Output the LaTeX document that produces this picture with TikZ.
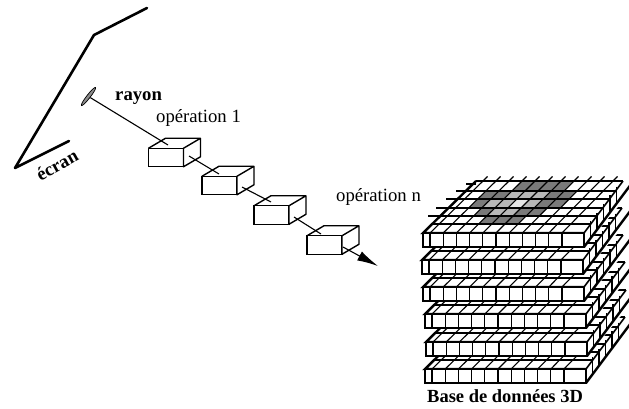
\documentclass[tikz,border=0pt]{standalone}
\usepackage{fontspec}
\setmainfont{Liberation Serif}
\usetikzlibrary{shapes.geometric,arrows.meta}
\tikzset{
  lab/.style={inner sep=0pt,font=\fontsize{18.7}{20}\selectfont},
  blab/.style={inner sep=0pt,font=\fontsize{18.7}{20}\selectfont\bfseries},
  boxfront/.style={draw=black,fill=white,line width=1.4pt,minimum width=35pt,minimum height=18.5pt,inner sep=0pt,outer sep=0pt},
  boxedge/.style={draw=black,fill=white,line width=1.4pt,line join=round},
  rayline/.style={draw=black,line width=1.1pt},
  screenline/.style={draw=black,line width=2.6pt,line join=round,line cap=round},
  gridthin/.style={draw=black,line width=1.1pt},
  slabedge/.style={draw=black,line width=2.4pt,line join=miter},
  darkcell/.style={fill=black!52},
  lightcell/.style={fill=black!28},
  whitecell/.style={fill=black!10}
}
\newcommand{\cellfill}[5]{% style, y0, y1, k0, k1
  \pgfmathsetmacro{\xa}{483+13*#4+(-53+0.2*#4)*(#2-181)/52}
  \pgfmathsetmacro{\xb}{483+13*#5+(-53+0.2*#5)*(#2-181)/52}
  \pgfmathsetmacro{\xc}{483+13*#5+(-53+0.2*#5)*(#3-181)/52}
  \pgfmathsetmacro{\xd}{483+13*#4+(-53+0.2*#4)*(#3-181)/52}
  \path[#1] (\xa,#2) -- (\xb,#2) -- (\xc,#3) -- (\xd,#3) -- cycle;
}
\newcommand{\slabbody}{%
  \path[fill=white] (476,181) -- (623,181) -- (584,233) -- (423,233) -- cycle;
}
\newcommand{\slablines}{%
  \foreach \k in {0,...,10}{
    \pgfmathsetmacro{\xt}{483+13*\k}
    \pgfmathsetmacro{\xf}{430+13.2*\k}
    \draw[gridthin] (\xt,181) -- (\xf,233);
  }
  \foreach \ya in {191,199,208,216,224}{
    \pgfmathsetmacro{\xl}{476-53*(\ya-181)/52}
    \pgfmathsetmacro{\xr}{623-39*(\ya-181)/52}
    \draw[gridthin] (\xl,\ya) -- (\xr,\ya);
  }
}
\newcommand{\slabfront}{%
  \path[fill=white] (584,233) -- (623,181) -- (640,158) -- (640,181) -- (584,247) -- cycle;
  \foreach \k in {1,...,5}{
    \pgfmathsetmacro{\xt}{584+39*\k/6}
    \pgfmathsetmacro{\yt}{233-52*\k/6}
    \draw[gridthin] (\xt,\yt-3) -- (\xt,\yt+14);
  }
  \draw[slabedge,line width=1.6pt] (584,233) -- (623,181);
  \draw[slabedge] (584,247) -- (640,172.3);
  \draw[slabedge] (476,181) -- (423,233) -- (584,233);
  \draw[slabedge,line width=1.8pt] (476,181) -- (623,181);
  \draw[slabedge,fill=white] (423,233) rectangle (584,247);
  \foreach \k in {0,...,10}{
    \pgfmathsetmacro{\xf}{430+13.2*\k}
    \draw[gridthin] (\xf,233) -- (\xf,247);
  }
}
\begin{document}
\begin{tikzpicture}[x=1pt,y=-1pt]
\clip (0,0) rectangle (629,408);
\fill[white] (0,0) rectangle (629,408);
% screen
\draw[screenline] (147,8) -- (94,35) -- (15,168) -- (69,141);
% lens
\node[draw=black,fill=black!45,line width=0.7pt,ellipse,minimum width=23pt,minimum height=3.5pt,inner sep=0pt,rotate=52] (lens) at (88.5,96.5) {};
% boxes
\foreach \n/\cx/\cy in {b1/166/157.5,b2/219.5/185.5,b3/271.5/215,b4/324.5/245}{
  \node[boxfront] (\n) at (\cx,\cy) {};
  \draw[boxedge] (\n.north west) -- ++(17,-10) -- ++(35,0) -- ++(0,18.5) -- (\n.south east) -- (\n.north east) -- ++(17,-10);
  \draw[boxedge] (\n.north west) -- (\n.north east);
}
% ray
\coordinate (r1a) at (168,145);
\coordinate (r2a) at (189,156);
\coordinate (r2b) at (219,174);
\coordinate (r3a) at (242,187);
\coordinate (r3b) at (271,202);
\coordinate (r4a) at (294,217);
\coordinate (r4b) at (321,234);
\coordinate (r5a) at (343,247);
\coordinate (tip) at (378,266);
\draw[rayline] (lens) -- (r1a);
\draw[rayline] (r2a) -- (r2b);
\draw[rayline] (r3a) -- (r3b);
\draw[rayline] (r4a) -- (r4b);
\draw[rayline,-{Latex[length=21pt,width=10pt]}] (r5a) -- (tip);
% labels
\node[blab,anchor=base west] (rayon) at (115,100) {rayon};
\node[lab,anchor=base west] (op1) at (156,122) {opération 1};
\node[lab,anchor=base west] (opn) at (336,201) {opération n};
\node[blab,rotate=29] (ecran) at (57,165) {écran};
\node[blab,anchor=base west,font=\fontsize{18.5}{20}\selectfont\bfseries] (base) at (427,402) {Base de données 3D};
% stacked slabs, bottom first
\foreach \dx/\yy in {2/369,3/342,2/314,0/287,-1/260}{
  \begin{scope}[shift={(\dx,\yy-233)}]
    \slabbody
    \slablines
    \slabfront
  \end{scope}
}
% top slab
\slabbody
\cellfill{darkcell}{181}{191}{3}{7}
\cellfill{darkcell}{191}{199}{1}{8}
\cellfill{lightcell}{191}{199}{3}{6}
\cellfill{darkcell}{199}{208}{1}{8}
\cellfill{lightcell}{199}{208}{2}{6}
\cellfill{whitecell}{199}{208}{4}{5}
\cellfill{darkcell}{208}{216}{2}{7}
\cellfill{lightcell}{208}{216}{3}{5}
\cellfill{darkcell}{216}{224}{3}{6}
\slablines
\foreach \k in {0,...,10}{
  \pgfmathsetmacro{\xt}{483+13*\k}
  \draw[gridthin] (\xt,181) -- (\xt+4.5,176.5);
}
\foreach \ya/\ov in {191/10,199/12,208/12,216/12}{
  \pgfmathsetmacro{\xl}{476-53*(\ya-181)/52}
  \draw[gridthin] (\xl,\ya) -- (\xl-\ov,\ya);
}
\draw[gridthin] (476,184) -- (466,184);
\slabfront
\end{tikzpicture}
\end{document}
